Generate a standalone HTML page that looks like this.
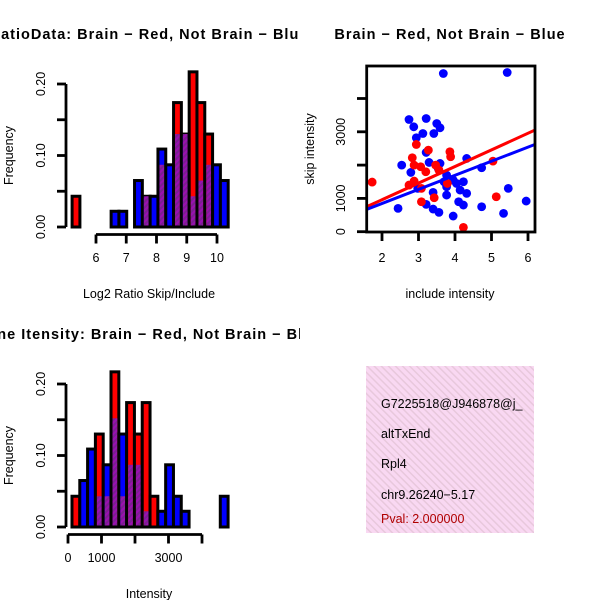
<!DOCTYPE html>
<html><head><meta charset="utf-8"><style>
html,body{margin:0;padding:0;background:#fff;}
svg{display:block;font-family:"Liberation Sans",Helvetica,sans-serif;}
</style></head><body>
<svg id="root" width="600" height="600" viewBox="0 0 600 600">
<defs>
<pattern id="purp" width="4" height="4" patternUnits="userSpaceOnUse" patternTransform="rotate(45)">
<rect width="4" height="4" fill="#9a10b0"/><rect width="2" height="4" fill="#7a2090"/>
</pattern>
<pattern id="pink" width="5" height="5" patternUnits="userSpaceOnUse" patternTransform="rotate(-45)">
<rect width="5" height="5" fill="#f9d8f2"/><rect width="1.5" height="5" fill="#e8c8dc"/>
</pattern>
<clipPath id="c1"><rect x="0" y="0" width="300" height="300"/></clipPath>
<clipPath id="c2"><rect x="0" y="300" width="300" height="300"/></clipPath>
<clipPath id="c3"><rect x="367" y="67" width="167" height="164"/></clipPath>
<clipPath id="c4"><rect x="366" y="366" width="168" height="167"/></clipPath>
</defs>
<g id="h1"></g>
<g id="sc"></g>
<g id="h2"></g>
<g>
<rect x="366" y="366" width="168" height="167" fill="url(#pink)"/>
<g font-size="12.5" clip-path="url(#c4)">
<text x="381" y="408">G7225518@J946878@j_</text>
<text x="381" y="438">altTxEnd</text>
<text x="381" y="468">Rpl4</text>
<text x="381" y="499">chr9.26240−5.17</text>
<text x="381" y="523" fill="#b00000">Pval: 2.000000</text>
</g></g>
</svg>
<script>
// ---- histogram 1 data ----
const h1Start = 5.21;
const h1BinWidth = 0.258;
const h1Red  = [0.043,0,0,0,0,0,0,0,0,0.043,0,0.087,0,0.174,0.13,0.217,0.174,0.13,0,0];
const h1Blue = [0,0,0,0,0,0.022,0.022,0,0.065,0.043,0.043,0.109,0.087,0.13,0.13,0.043,0.065,0.087,0.087,0.065];
const h1XTicks = [6,7,8,9,10];
const h1YTicks = [0,0.05,0.10,0.15,0.20];
const h1YLabels = ["0.00","","0.10","","0.20"];
// ---- histogram 2 data ----
const h2Start = 119;
const h2BinWidth = 233;
const h2Red  = [0.043,0,0,0.13,0.043,0.217,0.043,0.174,0.13,0.174,0.043,0,0,0,0,0,0,0,0,0];
const h2Blue = [0,0.065,0.109,0.043,0.087,0.152,0.13,0.087,0.087,0.022,0,0.022,0.087,0.043,0.022,0,0,0,0,0.043];
const h2XTicks = [0,1000,2000,3000,4000];
const h2XLabels = ["0","1000","","3000",""];
// ---- scatter data ----
const blueX = [3.68,5.43,2.74,3.21,2.87,3.50,3.59,3.12,2.94,3.42,3.21,2.54,2.79,3.29,3.59,3.54,4.32,4.73,3.77,3.95,4.04,4.23,3.70,3.77,4.14,4.32,3.40,3.77,2.98,5.46,4.10,4.23,3.21,3.40,3.56,2.44,4.73,3.95,5.33,5.95];
const blueY = [4750,4780,3370,3400,3150,3250,3120,2950,2820,2950,2380,2000,1780,2080,2050,1900,2200,1920,1700,1550,1450,1500,1500,1350,1250,1150,1180,1100,1300,1300,900,800,820,680,580,700,750,470,550,920];
const redX = [1.73,2.94,3.27,2.83,2.88,3.06,3.20,2.88,2.74,3.08,3.86,3.88,3.47,3.79,3.43,3.08,5.04,5.13,4.23,3.56];
const redY = [1490,2620,2450,2220,2000,1950,1800,1520,1400,1300,2400,2250,2000,1450,1020,900,2120,1050,130,1850];
const fitRed = [-38, 499];   // intercept, slope
const fitBlue = [2, 423];
const scXTicks = [2,3,4,5,6];
const scYTicks = [0,1000,2000,3000,4000];
const scYLabels = ["0","1000","","3000",""];

const NS="http://www.w3.org/2000/svg";
function mk(parent,tag,attrs,text){const e=document.createElementNS(NS,tag);for(const k in attrs)e.setAttribute(k,attrs[k]);if(text!==undefined)e.textContent=text;parent.appendChild(e);return e;}
const titleAttrs={'text-anchor':'middle','font-size':'14.5','font-weight':'bold','letter-spacing':'1'};

function drawHist(g, clipId, y0, start, bw, red, blue, xTicks, xLabels, xFn, title, xlab){
  const yFn = v => y0 - v*715;
  const gc = mk(g,'g',{'clip-path':'url(#'+clipId+')'});
  const t = mk(gc,'text',Object.assign({x:149,y:y0-188},titleAttrs),title);
  
  
  for(let i=0;i<red.length;i++){
    const x1=xFn(start+i*bw), x2=xFn(start+(i+1)*bw);
    const r=red[i], b=blue[i];
    const mx=Math.max(r,b), mn=Math.min(r,b);
    if(mx<=0) continue;
    const col = r>b ? '#ff0000' : '#0000ff';
    const bar=mk(g,'rect',{x:x1,y:yFn(mx),width:x2-x1,height:yFn(0)-yFn(mx),fill:col,stroke:'#000','stroke-width':3});
    
    
    if(mn>0){
      const ov=mk(g,'rect',{x:x1+1.5,y:yFn(mn),width:x2-x1-3,height:yFn(0)-yFn(mn)-1.5,fill:'url(#purp)'});
      
      
    }
  }
  const ya=mk(g,'g',{});
  
  
  mk(ya,'line',{x1:66,x2:66,y1:yFn(0),y2:yFn(0.2),stroke:'#000','stroke-width':2.8});
  h1YTicks.forEach((v,i)=>{
    mk(ya,'line',{x1:57,x2:66,y1:yFn(v),y2:yFn(v),stroke:'#000','stroke-width':2.8});
    if(h1YLabels[i]) mk(ya,'text',{x:0,y:0,'text-anchor':'middle','font-size':'12.5',transform:`translate(45,${yFn(v)}) rotate(-90)`},h1YLabels[i]);
  });
  const yl=mk(g,'text',{x:0,y:0,'text-anchor':'middle','font-size':'12.5',transform:`translate(13,${yFn(0.1)}) rotate(-90)`},'Frequency');
  
  
  const xa=mk(g,'g',{});
  
  
  const ay=y0+7.5;
  mk(xa,'line',{x1:xFn(xTicks[0]),x2:xFn(xTicks[xTicks.length-1]),y1:ay,y2:ay,stroke:'#000','stroke-width':2.8});
  xTicks.forEach((v,i)=>{
    mk(xa,'line',{x1:xFn(v),x2:xFn(v),y1:ay,y2:ay+9,stroke:'#000','stroke-width':2.8});
    if(xLabels[i]) mk(xa,'text',{x:xFn(v),y:y0+35,'text-anchor':'middle','font-size':'12.5'},xLabels[i]);
  });
  const xl=mk(g,'text',{x:149,y:y0+71,'text-anchor':'middle','font-size':'12.5'},xlab);
  
  
}

drawHist(document.getElementById('h1'),'c1',227,h1Start,h1BinWidth,h1Red,h1Blue,h1XTicks,h1XTicks.map(String),
  v=>96+(v-6)*30.25,'RatioData: Brain − Red, Not Brain − Blue','Log2 Ratio Skip/Include');
drawHist(document.getElementById('h2'),'c2',527,h2Start,h2BinWidth,h2Red,h2Blue,h2XTicks,h2XLabels,
  v=>68+v*0.0335,'Gene Itensity: Brain − Red, Not Brain − Blue','Intensity');

(function(){
  const g=document.getElementById('sc');
  const sx=v=>382+(v-2)*36.5, sy=v=>231.7-v*0.0333;
  const t=mk(g,'text',Object.assign({x:450,y:39},titleAttrs),'Brain − Red, Not Brain − Blue');
  
  
  const pts=mk(g,'g',{'clip-path':'url(#c3)'});
  blueX.forEach((x,i)=>{const c=mk(pts,'circle',{cx:sx(x),cy:sy(blueY[i]),r:4.4,fill:'#0000ff'});
    
    });
  redX.forEach((x,i)=>{const c=mk(pts,'circle',{cx:sx(x),cy:sy(redY[i]),r:4.4,fill:'#ff0000'});
    
    });
  [[fitRed,'#ff0000','red-fit-line'],[fitBlue,'#0000ff','blue-fit-line']].forEach(([f,col,nm])=>{
    const l=mk(pts,'line',{x1:sx(1.5),y1:sy(f[0]+f[1]*1.5),x2:sx(6.3),y2:sy(f[0]+f[1]*6.3),stroke:col,'stroke-width':3});
    
    
  });
  const box=mk(g,'rect',{x:366.7,y:66,width:168.3,height:166,fill:'none',stroke:'#000','stroke-width':2.8});
  
  
  scXTicks.forEach(v=>{
    mk(g,'line',{x1:sx(v),x2:sx(v),y1:232,y2:241,stroke:'#000','stroke-width':2.8});
    mk(g,'text',{x:sx(v),y:262,'text-anchor':'middle','font-size':'12.5'},String(v));
  });
  scYTicks.forEach((v,i)=>{
    mk(g,'line',{x1:357,x2:366.7,y1:sy(v),y2:sy(v),stroke:'#000','stroke-width':2.8});
    if(scYLabels[i]) mk(g,'text',{x:0,y:0,'text-anchor':'middle','font-size':'12.5',transform:`translate(345,${sy(v)}) rotate(-90)`},scYLabels[i]);
  });
  const xl=mk(g,'text',{x:450,y:298,'text-anchor':'middle','font-size':'12.5'},'include intensity');
  
  
  const yl=mk(g,'text',{x:0,y:0,'text-anchor':'middle','font-size':'12.5',transform:'translate(314,149) rotate(-90)'},'skip intensity');
  
  
})();
</script>
</body></html>
